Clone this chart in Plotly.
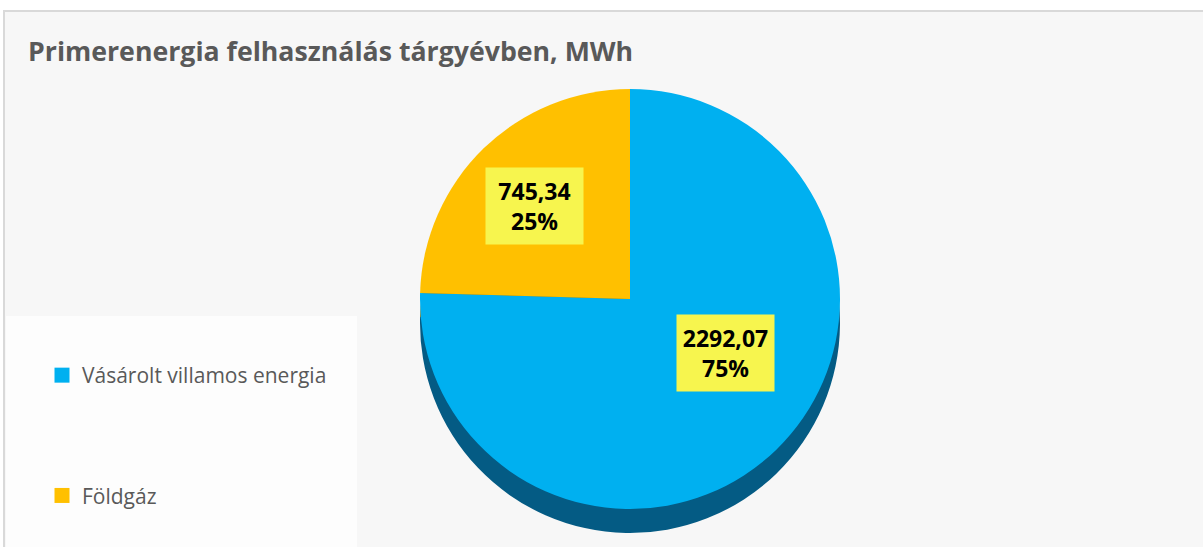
import math
import plotly.graph_objects as go

# ---- data ----
title_text = "Primerenergia felhasználás tárgyévben, MWh"
categories = ["Vásárolt villamos energia", "Földgáz"]
values = [2292.07, 745.34]
colors = ["#00B0F0", "#FFC000"]
side_colors = ["#045B84", "#9C7500"]

W, H = 1203, 547
total = sum(values)

def fmt_hu(v):
    return f"{v:.2f}".replace(".", ",")

label_texts = [f"<b>{fmt_hu(v)}<br>{round(v / total * 100)}%</b>" for v in values]

# pie geometry (pixels)
cx, cy, diam, depth = 630, 299, 420, 24

def dom(cx_, cy_, d):
    return dict(x=[(cx_ - d / 2) / W, (cx_ + d / 2) / W],
                y=[1 - (cy_ + d / 2) / H, 1 - (cy_ - d / 2) / H])

fig = go.Figure()

# extruded side (drawn first, underneath)
fig.add_trace(go.Pie(
    labels=categories, values=values, sort=False, direction="clockwise",
    rotation=0, marker=dict(colors=side_colors, line=dict(width=0)),
    textinfo="none", hoverinfo="skip", showlegend=False,
    domain=dom(cx, cy + depth, diam),
))
# top face
fig.add_trace(go.Pie(
    labels=categories, values=values, sort=False, direction="clockwise",
    rotation=0, marker=dict(colors=colors, line=dict(width=0)),
    textinfo="none", showlegend=False,
    domain=dom(cx, cy, diam),
))

# legend entries
for i, (name, col) in enumerate(zip(categories, colors)):
    fig.add_trace(go.Scatter(
        x=[None], y=[None], mode="markers", name=name, legendgroup=f"g{i}",
        marker=dict(symbol="square", size=15, color=col),
    ))

# data labels in yellow boxes, placed at the slice mid-angle
annotations = []
cum = 0.0
r = diam / 2
for v, txt in zip(values, label_texts):
    mid = (cum + v / 2) / total * 2 * math.pi
    cum += v
    px = cx + 0.65 * r * math.sin(mid)
    py = cy - 0.62 * r * math.cos(mid)
    annotations.append(dict(
        x=px / W, y=1 - py / H, xref="paper", yref="paper",
        text=txt, showarrow=False, bgcolor="#F7F54E",
        width=97, height=76, borderpad=0,
        font=dict(family="Open Sans", size=23, color="#000000"),
    ))

shapes = [
    dict(type="rect", xref="paper", yref="paper",
         x0=4 / W, x1=1.02, y0=-0.03, y1=1 - 11 / H,
         fillcolor="#F7F7F7", line=dict(color="#D9D9D9", width=2), layer="below"),
    dict(type="rect", xref="paper", yref="paper",
         x0=6 / W, x1=357 / W, y0=0, y1=1 - 316 / H,
         fillcolor="#FDFDFD", line=dict(width=0), layer="below"),
]

fig.update_layout(
    width=W, height=H,
    margin=dict(l=0, r=0, t=0, b=0),
    paper_bgcolor="#FFFFFF", plot_bgcolor="rgba(0,0,0,0)",
    title=dict(text=f"<b>{title_text}</b>", x=28 / W, xanchor="left",
               y=1 - 52 / H, yanchor="middle", yref="container",
               font=dict(family="Open Sans", size=26.7, color="#595959")),
    xaxis=dict(visible=False), yaxis=dict(visible=False),
    legend=dict(x=42 / W, xanchor="left", y=1 - 355 / H, yanchor="top",
                tracegroupgap=90, bgcolor="rgba(0,0,0,0)",
                font=dict(family="Open Sans", size=21, color="#595959")),
    shapes=shapes, annotations=annotations,
)

fig.write_html("out.html",
               config={"displayModeBar": False},
               post_script="document.body.style.margin='0';document.body.style.overflow='hidden';")
